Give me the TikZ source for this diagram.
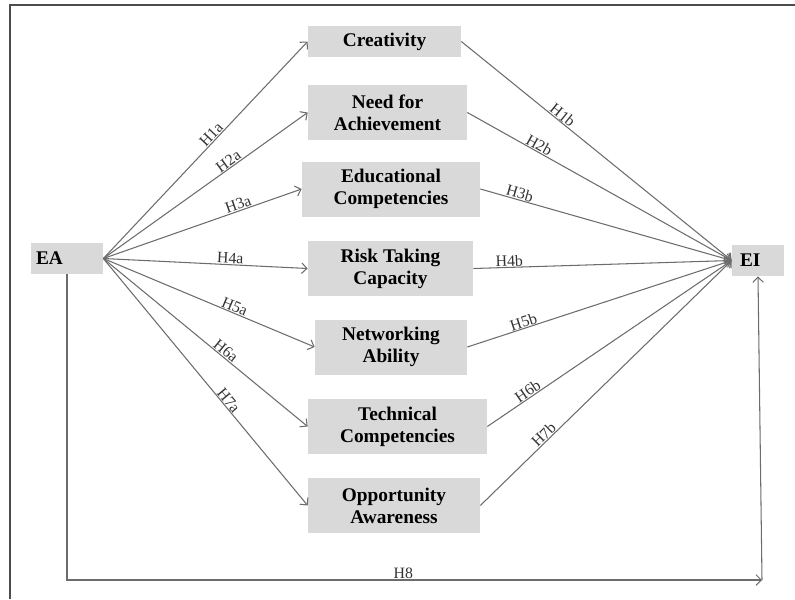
\documentclass[tikz,border=0pt]{standalone}
\usepackage{fontspec}
\setmainfont{Liberation Serif}
\usetikzlibrary{arrows.meta}
\tikzset{
  factor/.style={fill=gray!30, inner sep=0pt, align=center, minimum height=1.1cm,
    font=\bfseries\fontsize{11}{12.5}\selectfont},
  link/.style={draw=gray!85!black, -{Straight Barb[length=3pt,width=6pt]}, line width=0.6pt},
  hyp/.style={sloped, above, inner sep=0.3pt, text=black!80,
    font=\fontsize{9}{9}\selectfont},
}
\begin{document}
\begin{tikzpicture}[x=0.02cm, y=-0.02cm]
    \useasboundingbox (0,0) rectangle (795,599);
    % 枠
    \draw[gray!60!black, line width=0.8pt] (10,599) -- (10,5) -- (795,5);

    % ノード
    \node[factor, minimum width=1.44cm, minimum height=0.62cm, text width=1.24cm, align=left] (EA) at (67,258.5) {EA};
    \node[factor, minimum width=1.04cm, minimum height=0.62cm, text width=0.72cm, align=left] (EI) at (758,260.5) {EI};
    \node[factor, minimum width=3.06cm, minimum height=0.62cm] (cre) at (384.5,41.5) {Creativity};
    \node[factor, minimum width=3.18cm] (ach) at (387.5,112.5) {Need for\\Achievement};
    \node[factor, minimum width=3.56cm] (edu) at (391,189) {Educational\\Competencies};
    \node[factor, minimum width=3.30cm] (risk) at (390.5,268.5) {Risk Taking\\Capacity};
    \node[factor, minimum width=3.04cm] (net) at (391,347) {Networking\\Ability};
    \node[factor, minimum width=3.58cm] (tech) at (397.5,426.5) {Technical\\Competencies};
    \node[factor, minimum width=3.44cm] (opp) at (394,505.5) {Opportunity\\Awareness};
    \coordinate (corner) at (762,580);

    % EA から各要因へ
    \draw[link] (EA.east) -- node[hyp, pos=0.55] {H1a} (cre.west);
    \draw[link] (EA.east) -- node[hyp, pos=0.63] {H2a} (ach.west);
    \draw[link] (EA.east) -- node[hyp, pos=0.69] {H3a} (edu.west);
    \draw[link] (EA.east) -- node[hyp, pos=0.62] {H4a} (risk.west);
    \draw[link] (EA.east) -- node[hyp, pos=0.61] {H5a} (net.west);
    \draw[link] (EA.east) -- node[hyp, pos=0.58] {H6a} (tech.west);
    \draw[link] (EA.east) -- node[hyp, pos=0.59] {H7a} (opp.west);

    % 各要因から EI へ
    \draw[link] (cre.east) -- node[hyp, pos=0.36] {H1b} (EI.west);
    \draw[link] (ach.east) -- node[hyp, pos=0.26] {H2b} (EI.west);
    \draw[link] (edu.east) -- node[hyp, pos=0.15] {H3b} (EI.west);
    \draw[link] (risk.east) -- node[hyp, pos=0.14] {H4b} (EI.west);
    \draw[link] (net.east) -- node[hyp, pos=0.22] {H5b} (EI.west);
    \draw[link] (tech.east) -- node[hyp, pos=0.18] {H6b} (EI.west);
    \draw[link] (opp.east) -- node[hyp, pos=0.27] {H7b} (EI.west);

    % 直接効果
    \draw[link] (EA.south) |- node[hyp, pos=0.742] {H8} (corner);
    \draw[link] (corner) -- (EI.south);
\end{tikzpicture}
\end{document}
